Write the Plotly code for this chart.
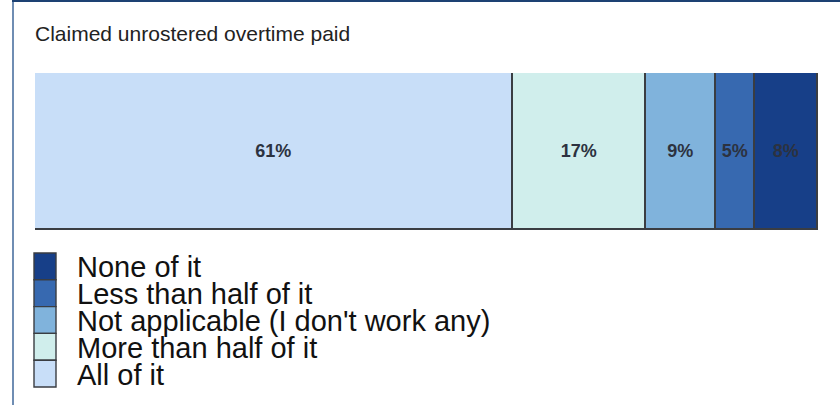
import plotly.graph_objects as go

# Survey responses: share of claimed unrostered overtime that was paid
categories = ["All of it", "More than half of it", "Not applicable (I don't work any)",
              "Less than half of it", "None of it"]
values = [61, 17, 9, 5, 8]
colors = ["#c8def8", "#d0eeec", "#80b3dc", "#3769b0", "#173f88"]
title_text = "Claimed unrostered overtime paid"
row_label = ["paid"]

W, H = 840, 405

def px_x(x):
    return x / W

def px_y(y):
    return 1 - y / H

fig = go.Figure()
for cat, val, col in zip(categories, values, colors):
    fig.add_trace(go.Bar(
        x=[val], y=row_label, orientation="h", name=cat,
        marker=dict(color=col, line=dict(color="#3a3d42", width=1.6)),
        width=1,
        text=[val], texttemplate="<b>%{x}%</b>", textposition="inside",
        insidetextanchor="middle", textangle=0,
        textfont=dict(family="Liberation Sans, Arial, sans-serif", size=18, color="#2c3240"),
        showlegend=False, hoverinfo="skip",
    ))

shapes = []
annotations = []

# Frame lines on the left and top edges
shapes.append(dict(type="line", xref="paper", yref="paper",
                   x0=px_x(13), x1=px_x(13), y0=0, y1=1,
                   line=dict(color="#6f8db3", width=2)))
shapes.append(dict(type="line", xref="paper", yref="paper",
                   x0=px_x(12), x1=1, y0=px_y(1), y1=px_y(1),
                   line=dict(color="#1d4173", width=2)))

# Title
annotations.append(dict(text=title_text, xref="paper", yref="paper",
                        x=px_x(33), y=px_y(33), xanchor="left", yanchor="middle",
                        showarrow=False,
                        font=dict(family="Liberation Sans, Arial, sans-serif", size=21, color="#222222")))

# Legend: swatches stacked from darkest (top) to lightest (bottom)
sw_top, sw_h = 253, 26.8
for i, (cat, col) in enumerate(zip(categories[::-1], colors[::-1])):
    y0 = sw_top + i * sw_h
    shapes.append(dict(type="rect", xref="paper", yref="paper",
                       x0=px_x(34), x1=px_x(56), y0=px_y(y0 + sw_h), y1=px_y(y0),
                       fillcolor=col, line=dict(color="#3a3d42", width=1.4)))
    annotations.append(dict(text=cat, xref="paper", yref="paper",
                            x=px_x(75), y=px_y(y0 + sw_h / 2 + 1), xanchor="left", yanchor="middle",
                            showarrow=False,
                            font=dict(family="Liberation Sans, Arial, sans-serif", size=29, color="#111111")))

fig.update_layout(
    width=W, height=H,
    margin=dict(l=0, r=0, t=0, b=0),
    paper_bgcolor="white", plot_bgcolor="white",
    barmode="stack", bargap=0,
    xaxis=dict(domain=[px_x(35), px_x(818)], range=[0, sum(values)],
               visible=False, fixedrange=True),
    yaxis=dict(domain=[px_y(230), px_y(73)], range=[-0.5, 0.5],
               visible=False, fixedrange=True),
    shapes=shapes, annotations=annotations,
    showlegend=False,
)

fig.write_html("out.html")
